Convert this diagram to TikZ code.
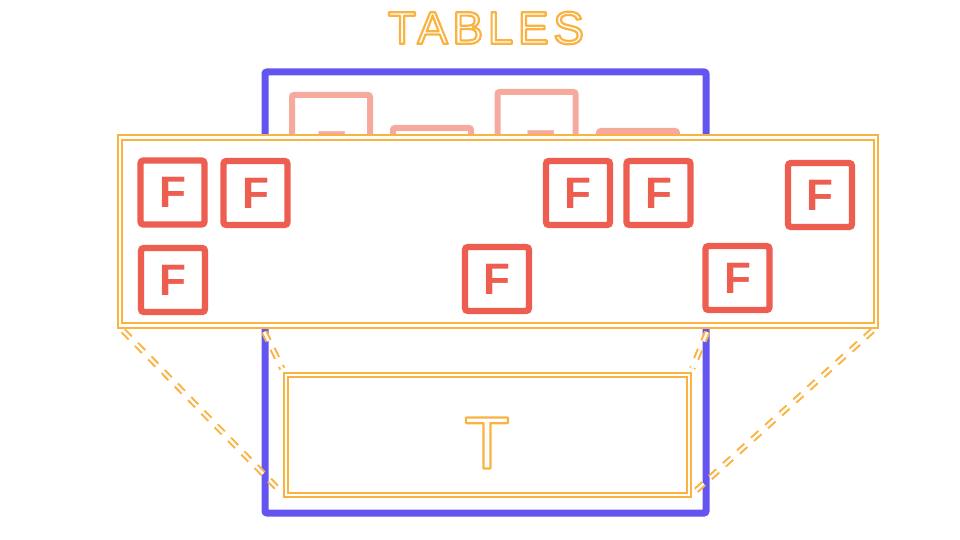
\documentclass[tikz,border=0pt]{standalone}
\usepackage{fontspec}
\newfontfamily\sketchfont{Liberation Sans}
\newfontfamily\titlefont[LetterSpace=10]{Liberation Sans}
\definecolor{tblue}{RGB}{100,84,240}
\definecolor{fred}{RGB}{238,94,80}
\definecolor{fpale}{RGB}{246,170,158}
\definecolor{tgold}{RGB}{250,178,64}
% outlined text: white fill, gold stroke
\newcommand{\glowword}[1]{\special{pdf:code q 2 Tr 1 j 1.1 w 1 1 1 rg 0.98 0.70 0.25 RG}#1\special{pdf:code Q}}

\begin{document}
\begin{tikzpicture}[x=0.5pt,y=-0.5pt,
    tablebox/.style={draw=tblue, line width=3.5pt, rounded corners=1pt, minimum width=220.5pt, minimum height=220.5pt, inner sep=0pt},
    ghostsq/.style={draw=fpale, line width=3pt, rounded corners=1pt, minimum width=39pt, minimum height=45pt, anchor=north, inner sep=0pt},
    ghostf/.style={text=fpale, inner sep=0pt, font=\sketchfont\bfseries\fontsize{26}{26}\selectfont},
    fsq/.style={draw=fred, line width=3.2pt, rounded corners=1.5pt, minimum size=32pt, inner sep=0pt, text=fred, font=\sketchfont\bfseries\fontsize{22}{22}\selectfont},
    glowline/.style={draw=tgold, line width=1pt, double=white, double distance=1.2pt},
    band/.style={glowline, fill=white, minimum width=378pt, minimum height=94pt, inner sep=0pt},
    trect/.style={glowline, minimum width=201.5pt, minimum height=60pt, inner sep=0pt},
    flink/.style={glowline, dash pattern=on 5pt off 4.5pt, shorten <=3pt, shorten >=3pt},
    glowtext/.style={font=#1, inner sep=0pt}
]
\useasboundingbox (0,0) rectangle (960,540);

% title and the table box
\node[glowtext={\titlefont\fontsize{23}{23}\selectfont}] (title) at (486,28) {\glowword{TABLES}};
\node[tablebox] (tables) at (485.5,292.5) {};

% faded files behind the band
\node[ghostsq] (g1) at (331,92) {};
\node[ghostsq] (g2) at (432,125) {};
\node[ghostsq] (g3) at (536.5,89) {};
\node[ghostsq] (g4) at (638,128) {};
\node[ghostf] (gf1) at (331,150) {F};
\node[ghostf] (gf2) at (540,149) {F};

% the band of files
\node[band] (band) at (498,231.5) {};
\node[fsq] (f1) at (172.5,192.5) {F};
\node[fsq] (f2) at (255.5,193) {F};
\node[fsq] (f3) at (578,193) {F};
\node[fsq] (f4) at (658.5,193) {F};
\node[fsq] (f5) at (820,195) {F};
\node[fsq] (f6) at (173,280) {F};
\node[fsq] (f7) at (497,279) {F};
\node[fsq] (f8) at (737.5,278) {F};

% the table
\node[trect] (tbl) at (487.5,435) {};
\node[glowtext={\sketchfont\fontsize{37}{37}\selectfont}] (tlbl) at (487,443) {\glowword{T}};

\coordinate (bl) at (tables.west |- band.south);
\coordinate (br) at (tables.east |- band.south);
\draw[flink] (band.south west) -- (tbl.south west);
\draw[flink] (bl) -- (tbl.north west);
\draw[flink] (band.south east) -- (tbl.south east);
\draw[flink] (br) -- (tbl.north east);
\end{tikzpicture}
\end{document}
